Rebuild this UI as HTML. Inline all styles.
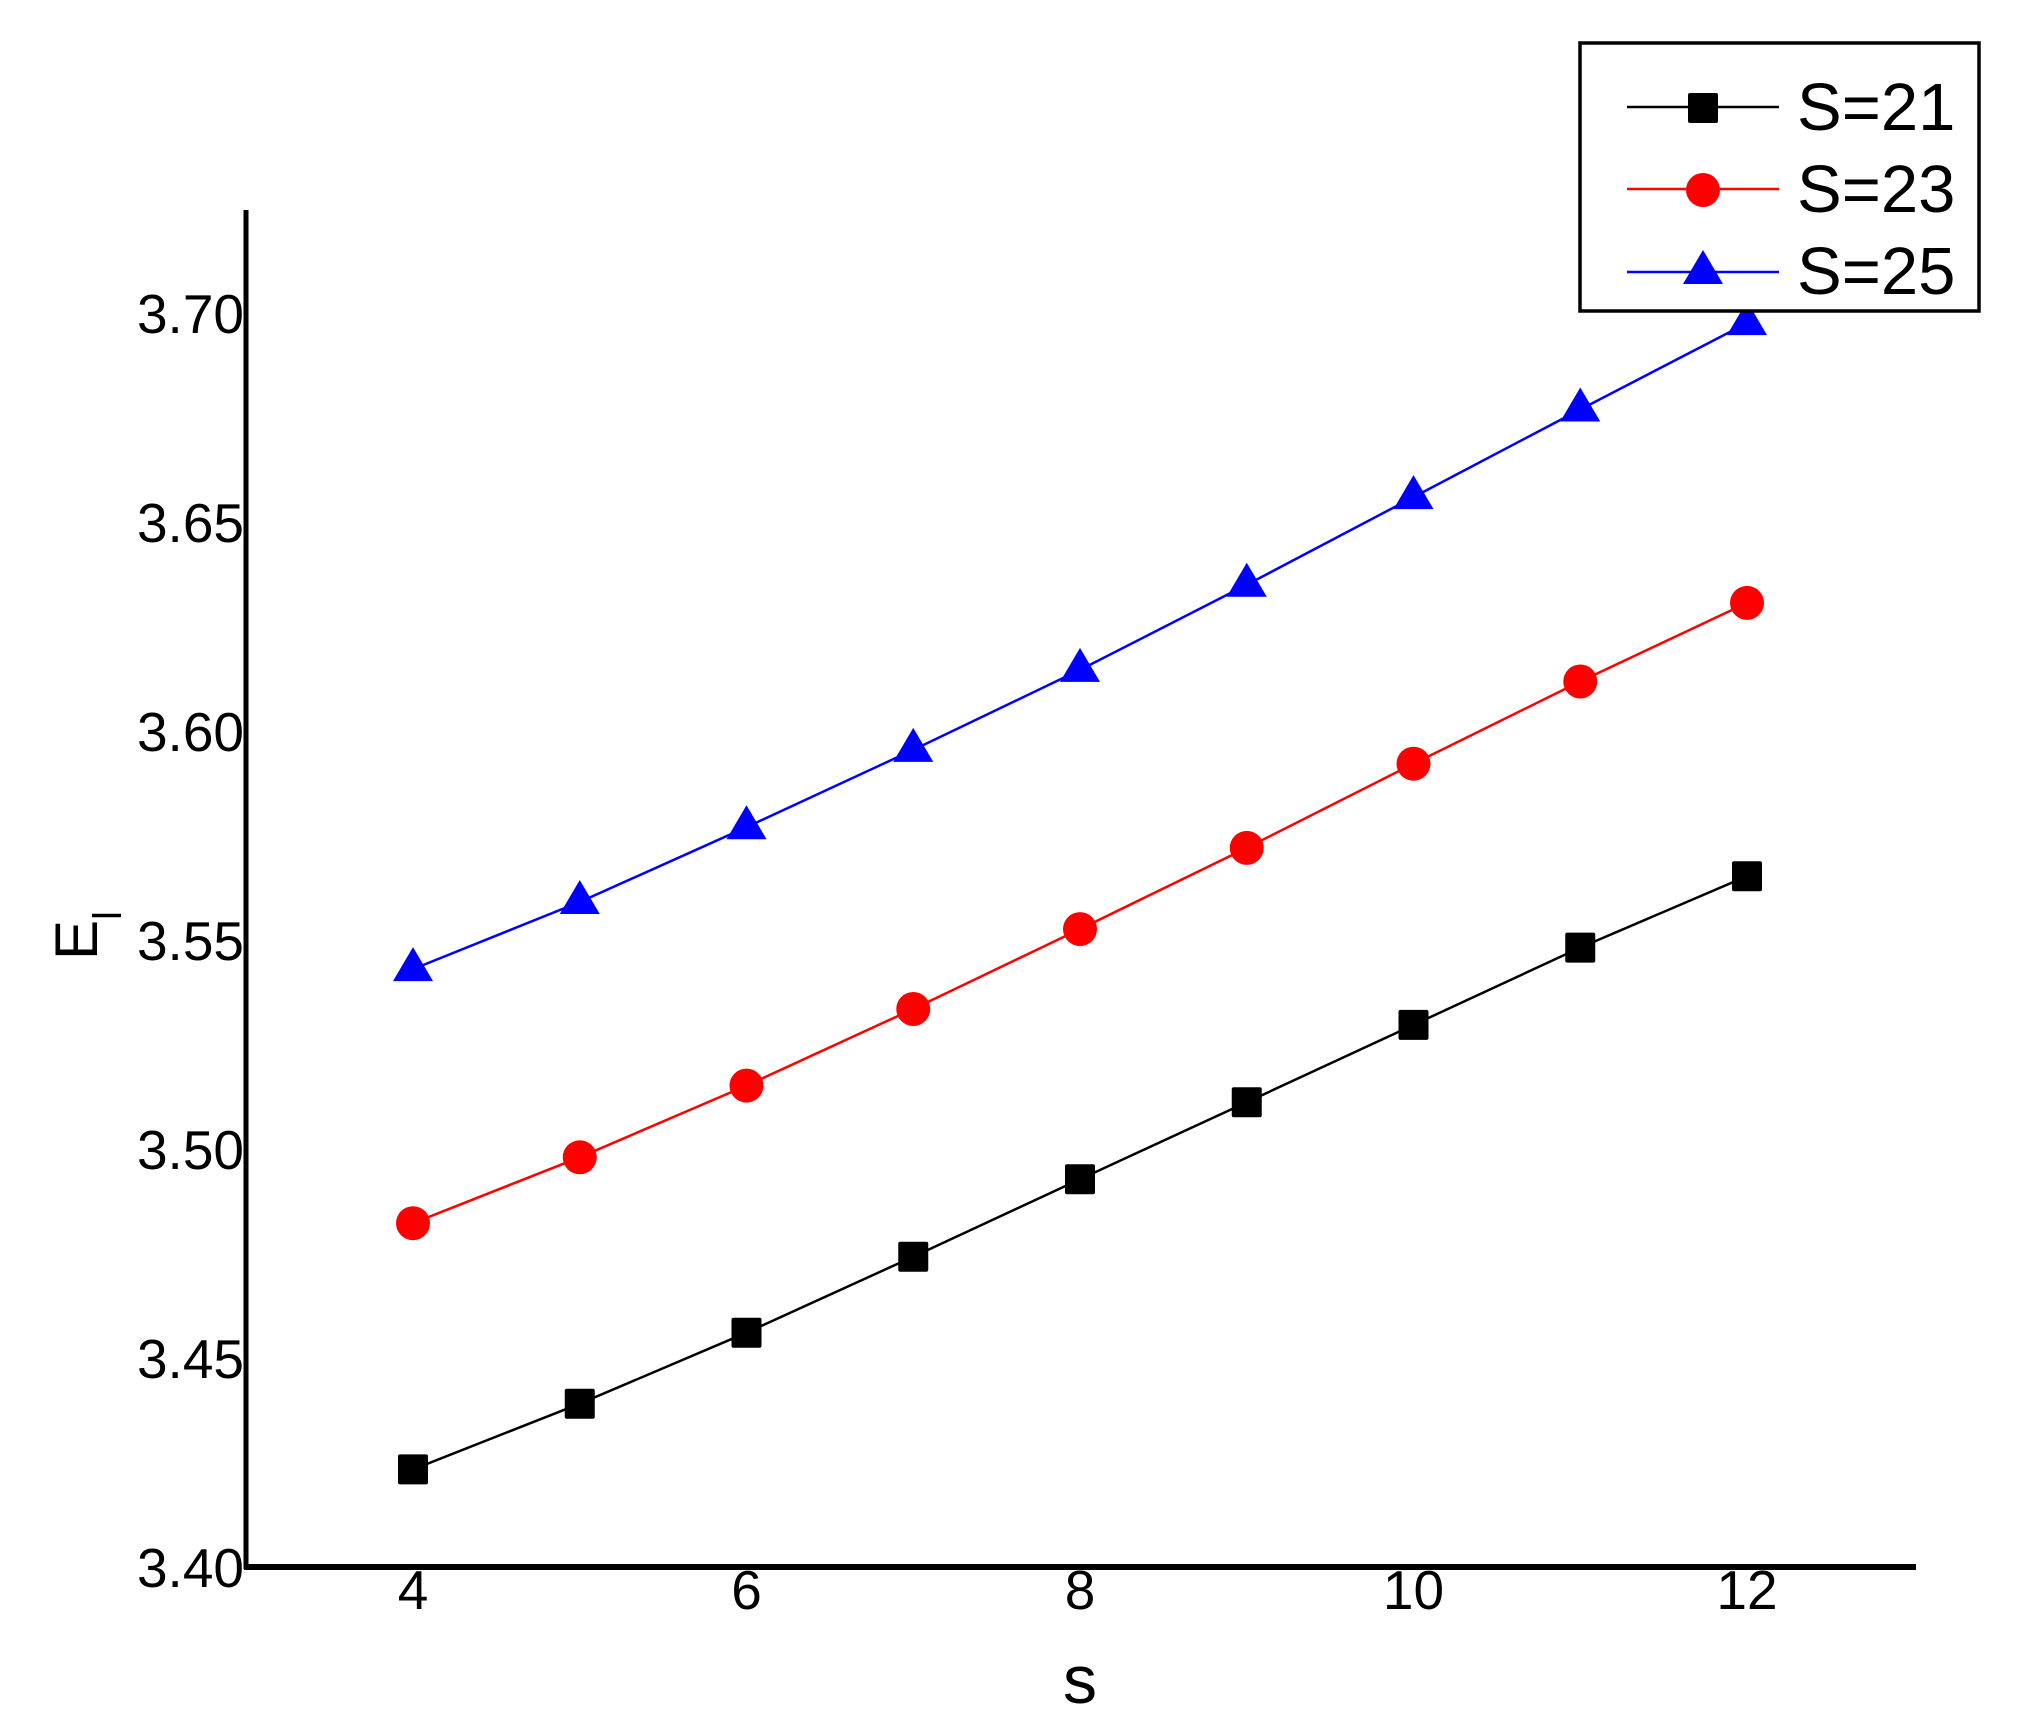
<!DOCTYPE html>
<html><head><meta charset="utf-8"><style>html,body{margin:0;padding:0;background:#fff}svg{display:block}</style></head>
<body>
<svg width="2030" height="1735" viewBox="0 0 2030 1735" xmlns="http://www.w3.org/2000/svg" font-family="Liberation Sans, Arial, sans-serif">
<rect width="2030" height="1735" fill="#fff"/>
<line x1="246" y1="210" x2="246" y2="1569" stroke="#000" stroke-width="5"/>
<line x1="244" y1="1567" x2="1916" y2="1567" stroke="#000" stroke-width="6"/>
<g font-size="55" text-anchor="end" fill="#000">
<text x="244" y="333">3.70</text>
<text x="244" y="542">3.65</text>
<text x="244" y="751">3.60</text>
<text x="244" y="960">3.55</text>
<text x="244" y="1169">3.50</text>
<text x="244" y="1378">3.45</text>
<text x="244" y="1587">3.40</text>
</g>
<g font-size="55" text-anchor="middle" fill="#000">
<text x="413" y="1609">4</text>
<text x="746.5" y="1609">6</text>
<text x="1080" y="1609">8</text>
<text x="1413.5" y="1609">10</text>
<text x="1747" y="1609">12</text>
</g>
<text x="1080" y="1703" font-size="68" text-anchor="middle">s</text>
<text transform="translate(97,960) rotate(-90)" font-size="60">E</text>
<text transform="translate(121,920) rotate(-90)" font-size="40">l</text>
<polyline fill="none" stroke="#000" stroke-width="2.5" points="413,1469.4 579.75,1403.7 746.5,1332.7 913.25,1256.7 1080,1179.2 1246.75,1102.2 1413.5,1024.9 1580.25,947.6 1747,876.2"/>
<g fill="#000">
<rect x="398" y="1454.4" width="30" height="30" rx="2"/>
<rect x="564.75" y="1388.7" width="30" height="30" rx="2"/>
<rect x="731.5" y="1317.7" width="30" height="30" rx="2"/>
<rect x="898.25" y="1241.7" width="30" height="30" rx="2"/>
<rect x="1065" y="1164.2" width="30" height="30" rx="2"/>
<rect x="1231.75" y="1087.2" width="30" height="30" rx="2"/>
<rect x="1398.5" y="1009.9" width="30" height="30" rx="2"/>
<rect x="1565.25" y="932.6" width="30" height="30" rx="2"/>
<rect x="1732" y="861.2" width="30" height="30" rx="2"/>
</g>
<polyline fill="none" stroke="#f00" stroke-width="2.5" points="413,1223.2 579.75,1157.3 746.5,1085.6 913.25,1009 1080,929.1 1246.75,847.9 1413.5,763.7 1580.25,681.5 1747,602.9"/>
<g fill="#f00">
<circle cx="413" cy="1223.2" r="17"/>
<circle cx="579.75" cy="1157.3" r="17"/>
<circle cx="746.5" cy="1085.6" r="17"/>
<circle cx="913.25" cy="1009" r="17"/>
<circle cx="1080" cy="929.1" r="17"/>
<circle cx="1246.75" cy="847.9" r="17"/>
<circle cx="1413.5" cy="763.7" r="17"/>
<circle cx="1580.25" cy="681.5" r="17"/>
<circle cx="1747" cy="602.9" r="17"/>
</g>
<polyline fill="none" stroke="#00f" stroke-width="2.5" points="413,969.1 579.75,902 746.5,827.2 913.25,749.9 1080,669.9 1246.75,584.8 1413.5,497.1 1580.25,409.5 1747,323.1"/>
<g fill="#00f">
<polygon points="413,947.1 433,981.1 393,981.1"/>
<polygon points="579.75,880 599.75,914 559.75,914"/>
<polygon points="746.5,805.2 766.5,839.2 726.5,839.2"/>
<polygon points="913.25,727.9 933.25,761.9 893.25,761.9"/>
<polygon points="1080,647.9 1100,681.9 1060,681.9"/>
<polygon points="1246.75,562.8 1266.75,596.8 1226.75,596.8"/>
<polygon points="1413.5,475.1 1433.5,509.1 1393.5,509.1"/>
<polygon points="1580.25,387.5 1600.25,421.5 1560.25,421.5"/>
<polygon points="1747,301.1 1767,335.1 1727,335.1"/>
</g>
<rect x="1580" y="43" width="399" height="268" fill="#fff" stroke="#000" stroke-width="3.5"/>
<line x1="1627" y1="107" x2="1779" y2="107" stroke="#000" stroke-width="2.5"/>
<rect x="1688" y="93" width="30" height="30" rx="2" fill="#000"/>
<line x1="1627" y1="189" x2="1779" y2="189" stroke="#f00" stroke-width="2.5"/>
<circle cx="1703" cy="190" r="17" fill="#f00"/>
<line x1="1627" y1="272" x2="1779" y2="272" stroke="#00f" stroke-width="2.5"/>
<polygon points="1703,250 1723,284 1683,284" fill="#00f"/>
<g font-size="67" fill="#000">
<text x="1797" y="130">S=21</text>
<text x="1797" y="212">S=23</text>
<text x="1797" y="294">S=25</text>
</g>
</svg>
</body></html>
